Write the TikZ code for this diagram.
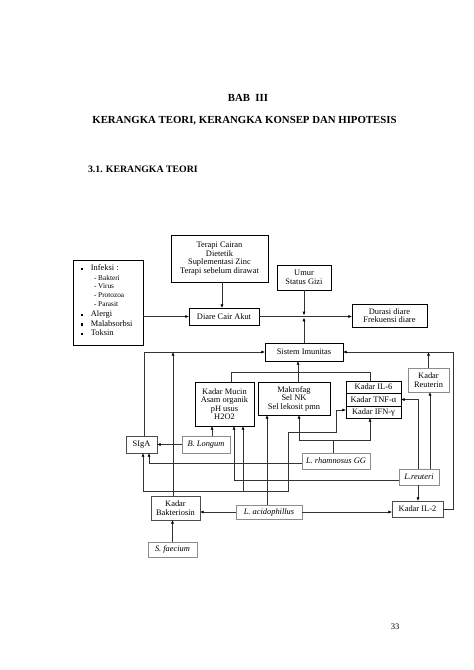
\documentclass[tikz,border=0pt]{standalone}
\usepackage{fontspec}
\setmainfont{Liberation Serif}
\usetikzlibrary{arrows.meta,calc}
\newcommand\infbul{\rule[0.6pt]{2.4pt}{2.4pt}\hspace{8pt}}
\tikzset{
  every node/.style={inner sep=0pt, outer sep=0pt},
  dtext/.style={font=\fontsize{8.4}{8.5}\selectfont, align=center},
  stext/.style={font=\fontsize{7.3}{8}\selectfont},
  tbx/.style={dtext, draw=black, line width=0.95pt},
  bx/.style={dtext, draw=black, line width=0.65pt},
  mbx/.style={dtext, draw=black!70, line width=0.65pt},
  gbx/.style={dtext, draw=black!45, line width=0.65pt},
  ital/.style={font=\fontsize{8.4}{8.5}\selectfont\itshape},
  conn/.style={draw=black!80, line width=0.6pt},
  arr/.style={conn, -{Latex[length=3.6pt,width=3pt,color=black]}},
  ttl/.style={font=\bfseries\fontsize{10.8}{12}\selectfont}
}
\begin{document}
\begin{tikzpicture}[x=1pt,y=-1pt]
\useasboundingbox (0,0) rectangle (474,670);
\fill[white] (0,0) rectangle (474,670);

% titles
\node[ttl] (bab) at (248,98) {BAB\hspace{0.5em}III};
\node[ttl] (judul) at (244.5,121) {KERANGKA TEORI, KERANGKA KONSEP DAN HIPOTESIS};
\node[font=\bfseries\fontsize{9.8}{12}\selectfont, anchor=west] (sub) at (88,169.5) {3.1. KERANGKA TEORI};
\node[font=\fontsize{8.5}{10}\selectfont] (hal) at (395,627) {33};

% boxes
\node[tbx, minimum width=97pt, minimum height=47pt] (terapi) at (219.5,258.5) {Terapi Cairan\\Dietetik\\Suplementasi Zinc\\Terapi sebelum dirawat};
\node[tbx, minimum width=70pt, minimum height=85pt] (infeksi) at (108,302.5) {};
\node[dtext, anchor=west] (i1) at (80.5,268) {\infbul Infeksi :};
\node[stext, anchor=west] (i2) at (94,277.5) {- Bakteri};
\node[stext, anchor=west] (i3) at (94,286.5) {- Virus};
\node[stext, anchor=west] (i4) at (94,295.5) {- Protozoa};
\node[stext, anchor=west] (i5) at (94,304.5) {- Parasit};
\node[dtext, anchor=west] (i6) at (80.5,314.5) {\infbul Alergi};
\node[dtext, anchor=west] (i7) at (80.5,323.5) {\infbul Malabsorbsi};
\node[dtext, anchor=west] (i8) at (80.5,333) {\infbul Toksin};

\node[bx, minimum width=70pt, minimum height=17pt] (diare) at (224,316.5) {Diare Cair Akut};
\node[bx, minimum width=54pt, minimum height=25pt] (umur) at (304,277.5) {Umur\\Status Gizi};
\node[bx, minimum width=75pt, minimum height=23pt] (durasi) at (389.5,315.5) {Durasi diare\\Frekuensi diare};
\node[bx, minimum width=78pt, minimum height=18pt] (sistem) at (304,352) {Sistem Imunitas};
\node[tbx, minimum width=59pt, minimum height=44pt] (mucin) at (224.5,404) {Kadar Mucin\\Asam organik\\pH usus\\H2O2};
\node[tbx, minimum width=72pt, minimum height=33pt] (makro) at (294,398.5) {Makrofag\\Sel NK\\Sel lekosit pmn};

\node[dtext, minimum width=55pt, minimum height=12pt] (il6) at (373.5,387) {Kadar IL-6};
\node[dtext, minimum width=55pt, minimum height=13pt] (tnf) at (373.5,399.5) {Kadar TNF-α};
\node[dtext, minimum width=55pt, minimum height=12pt] (ifn) at (373.5,412) {Kadar IFN-γ};
\draw[line width=0.95pt] (il6.north west) rectangle (ifn.south east);
\draw[line width=0.45pt] (il6.south west) -- (il6.south east);
\draw[line width=0.45pt] (tnf.south west) -- (tnf.south east);

\node[gbx, minimum width=41pt, minimum height=24pt] (reuterin) at (428.5,380) {Kadar\\Reuterin};
\node[mbx, minimum width=31pt, minimum height=17pt] (siga) at (141.5,444.5) {SIgA};
\node[gbx, ital, minimum width=48pt, minimum height=17pt] (blongum) at (206,444.5) {B. Longum};
\node[gbx, ital, minimum width=68pt, minimum height=16pt] (rham) at (336,461) {L. rhamnosus GG};
\node[gbx, ital, minimum width=40pt, minimum height=16pt] (reuteri) at (419,477) {L.reuteri};
\node[mbx, minimum width=49pt, minimum height=24pt] (bakt) at (175.5,508) {Kadar\\Bakteriosin};
\node[gbx, ital, minimum width=66pt, minimum height=14pt] (acid) at (269,512) {L. acidophillus};
\node[mbx, minimum width=51pt, minimum height=16pt] (il2) at (417.5,509) {Kadar IL-2};
\node[gbx, ital, minimum width=49pt, minimum height=15pt] (faecium) at (172.5,549.5) {S. faecium};

% top connectors
\draw[arr] (diare.west -| infeksi.east) -- (diare.west);
\coordinate (dn) at ($(diare.north)+(-2,0)$);
\draw[arr] (dn |- terapi.south) -- (dn);
\draw[arr] (diare.east) -- (diare.east -| durasi.west);
\coordinate (mj) at (sistem.north |- diare.east);
\draw[arr] (umur.south) -- ($(mj)+(0,-1.2)$);
\draw[arr] (sistem.north) -- ($(mj)+(0,1.2)$);

% into Sistem Imunitas
\coordinate (sgn) at ($(siga.north)+(2.5,0)$);
\draw[arr] (sgn) |- (sistem.west);
\coordinate (bkn) at ($(bakt.north)+(-2.5,0)$);
\draw[arr] (bkn) -- (bkn |- sistem.west);
\draw[arr] (faecium.north) -- (faecium.north |- bakt.south);
\draw[arr] (reuterin.north) -- (reuterin.north |- sistem.east);
\draw[arr] (il2.east) -- ++(10,0) |- (sistem.east);
\coordinate (mkn) at ($(makro.north)+(4,0)$);
\draw[arr] (mkn) -- (mkn |- sistem.south);
\coordinate (mcn) at ($(mucin.north)+(6.5,0)$);
\coordinate (iln) at ($(il6.north)+(-3.5,0)$);
\draw[conn] (mcn) -- ++(0,-10) -| (iln);

% B. Longum
\draw[arr] (blongum.west) -- (siga.east);
\coordinate (bln) at ($(blongum.north)+(6,0)$);
\draw[arr] (bln) -- (bln |- mucin.south);

% L. rhamnosus GG
\coordinate (rw) at ($(rham.west)+(0,2)$);
\coordinate (sgs2) at ($(siga.south)+(7.5,0)$);
\draw[arr] (rw) -| (sgs2);
\coordinate (rn) at ($(rham.north)+(-3,0)$);
\coordinate (rj) at ($(rn)+(0,-13)$);
\draw[conn] (rn) -- (rj);
\coordinate (mks) at ($(makro.south)+(5,0)$);
\coordinate (ils) at ($(ifn.south)+(-3.5,0)$);
\draw[arr] (rj) -| (mks);
\draw[arr] (rj) -| (ils);

% L. acidophillus
\coordinate (an) at ($(acid.north)+(-2,0)$);
\draw[arr] (an) -- (an |- makro.south);
\coordinate (aj) at ($(an)+(0,-14)$);
\coordinate (sgs1) at ($(siga.south)+(1.5,0)$);
\draw[arr] (aj) -| (sgs1);
\coordinate (mcs2) at ($(mucin.south)+(18.5,0)$);
\draw[arr] (aj -| mcs2) -- (mcs2);
\draw[arr] (aj) -- ++(21,0) -- ++(0,-59) -- ++(48,0) |- ($(ifn.west)+(0,-2)$);
\draw[arr] (acid.west) -- (acid.west -| bakt.east);
\draw[arr] (acid.east) -- (acid.east -| il2.west);

% L. reuteri
\coordinate (rtw) at ($(reuteri.west)+(0,3)$);
\coordinate (mcs1) at ($(mucin.south)+(9.5,0)$);
\draw[arr] (rtw) -| (mcs1);
\coordinate (rtn1) at ($(reuteri.north)+(-1,0)$);
\draw[arr] (rtn1) |- (tnf.east);
\coordinate (rtn2) at ($(reuteri.north)+(11,0)$);
\draw[arr] (rtn2) -- (rtn2 |- reuterin.south);
\coordinate (rts) at ($(reuteri.south)+(-1,0)$);
\draw[arr] (rts) -- (rts |- il2.north);
\end{tikzpicture}
\end{document}
